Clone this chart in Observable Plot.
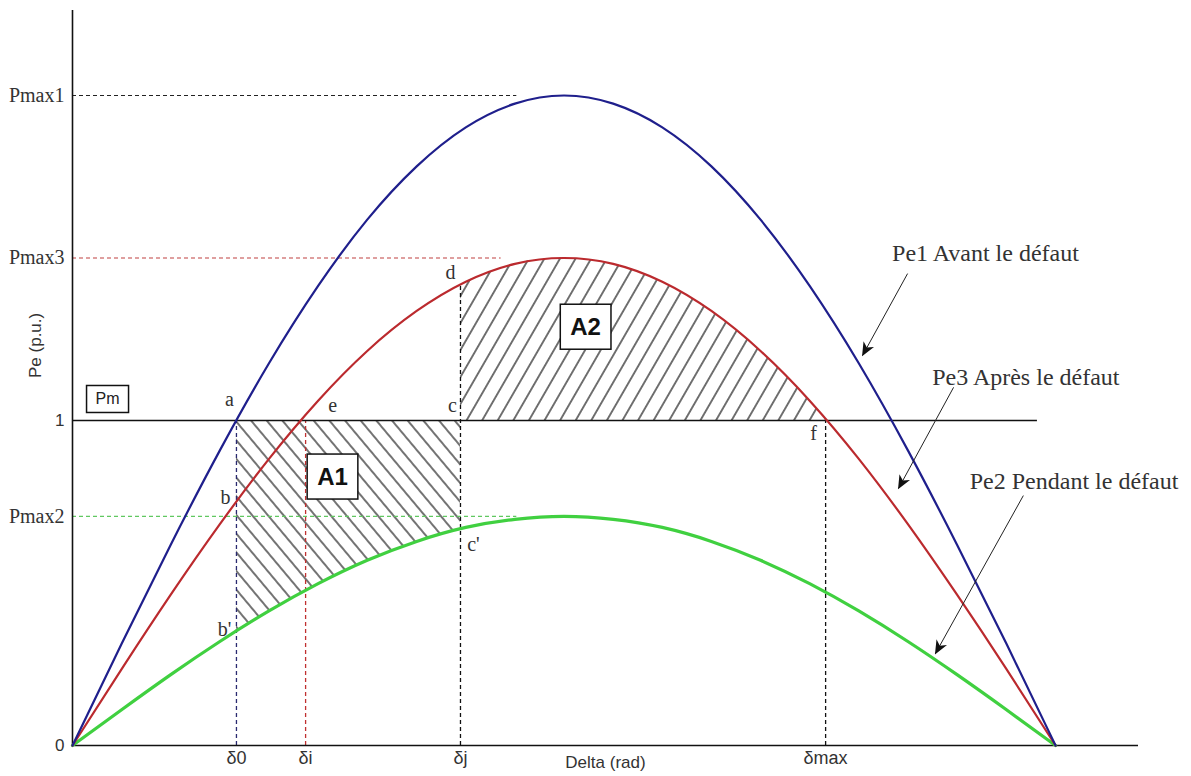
<!DOCTYPE html>
<html><head><meta charset="utf-8">
<script src="https://cdn.jsdelivr.net/npm/d3@7"></script>
<script src="https://cdn.jsdelivr.net/npm/@observablehq/plot@0.6"></script>
<style>html,body{margin:0;padding:0;background:#fff;} svg{display:block;}</style>
</head><body><div id="chart"></div>
<script>
// ---- data ----
const delta = [0, 0.157, 0.314, 0.471, 0.628, 0.785, 0.942, 1.100, 1.257, 1.414, 1.571, 1.728, 1.885, 2.042, 2.199, 2.356, 2.513, 2.670, 2.827, 2.985, 3.142];
const pe1 = [0, 0.313, 0.618, 0.908, 1.176, 1.414, 1.618, 1.782, 1.902, 1.975, 2.000, 1.975, 1.902, 1.782, 1.618, 1.414, 1.176, 0.908, 0.618, 0.313, 0];
const pe3 = [0, 0.235, 0.464, 0.681, 0.882, 1.061, 1.214, 1.337, 1.427, 1.482, 1.500, 1.482, 1.427, 1.337, 1.214, 1.061, 0.882, 0.681, 0.464, 0.235, 0];
const pe2 = [0, 0.110, 0.218, 0.320, 0.414, 0.498, 0.570, 0.628, 0.671, 0.696, 0.705, 0.696, 0.671, 0.628, 0.570, 0.498, 0.414, 0.320, 0.218, 0.110, 0];
// key points: δ0, δj, δmax
const keyDelta = [0.524, 1.240, 2.407];
const keyPe2 = [0.352, 0.667, 0.470];
const keyPe3 = [0.750, 1.419, 1.000];
const pm = 1;
const pmEnd = 3.084;
const pmaxValues = [2.0, 1.5, 0.705];
const pmaxLabels = ["Pmax1", "Pmax3", "Pmax2"];
const pmaxEnds = [1.42, 1.37, 1.42];
const angleTicks = [0.524, 0.745, 1.240, 2.407];
const angleLabels = ["δ0", "δi", "δj", "δmax"];
const yTicks = [0, 1];
const yTickLabels = ["0", "1"];
const curveNames = ["Pe1 Avant le défaut", "Pe3 Après le défaut", "Pe2 Pendant le défaut"];
const curveNameX = [2.918, 3.047, 3.201];
const curveNameY = [1.514, 1.132, 0.812];
const arrowX1 = [2.669, 2.816, 3.039];
const arrowY1 = [1.452, 1.102, 0.769];
const arrowX2 = [2.525, 2.640, 2.758];
const arrowY2 = [1.200, 0.791, 0.283];
const areaNames = ["A1", "A2"];
const areaNameX = [0.831, 1.640];
const areaNameY = [0.825, 1.286];
const pmBoxX = [0.112];
const pmBoxY = [1.065];

// ---- tables ----
const rows = delta.map((d, i) => ({delta: d, pe1: pe1[i], pe2: pe2[i], pe3: pe3[i]}));
const keys = keyDelta.map((d, i) => ({delta: d, pe2: keyPe2[i], pe3: keyPe3[i]}));
const [d0, di, dj, dmax] = angleTicks;
const byDelta = (a, b) => a.delta - b.delta;
const a1Rows = [keys[0], ...rows.filter(r => r.delta > d0 && r.delta < dj), keys[1]].sort(byDelta);
const a2Rows = [keys[1], ...rows.filter(r => r.delta > dj && r.delta < dmax), keys[2]].sort(byDelta);
const pmaxRows = pmaxValues.map((v, i) => ({v, end: pmaxEnds[i], label: pmaxLabels[i]}));
const calloutRows = curveNames.map((n, i) => ({x1: arrowX1[i], y1: arrowY1[i], x2: arrowX2[i], y2: arrowY2[i]}));
const nameRows = curveNames.map((n, i) => ({n, x: curveNameX[i], y: curveNameY[i]}));
const areaRows = areaNames.map((n, i) => ({n, x: areaNameX[i], y: areaNameY[i]}));

const SANS = "Liberation Sans, Arial, sans-serif";
const SERIF = "Liberation Serif, Times New Roman, serif";
const BLUE = "#1f1f8c", RED = "#bb2a2e", GREEN = "#40d040";

function letter(t, x, y, dx, dy) {
  return Plot.text([{x, y}], {x: "x", y: "y", text: () => t, dx, dy, fontFamily: SERIF, fontSize: 20, fill: "#333"});
}

const chart = Plot.plot({
  width: 1191, height: 776,
  marginLeft: 72, marginRight: 53, marginTop: 10, marginBottom: 31,
  x: {domain: [0, 3.407], axis: null},
  y: {domain: [0, 2.2615], axis: null},
  style: {fontFamily: SANS, background: "#fff", color: "#222"},
  marks: [
    // hatched areas
    Plot.areaY(a1Rows, {x: "delta", y1: "pe2", y2: pm, fill: "url(#hatchA1)", curve: "natural"}),
    Plot.areaY(a2Rows, {x: "delta", y1: pm, y2: "pe3", fill: "url(#hatchA2)", curve: "natural"}),
    // Pmax dashed guides
    Plot.ruleY([pmaxRows[0]], {y: "v", x1: 0, x2: "end", stroke: "#222", strokeDasharray: "4,3", strokeWidth: 1.2}),
    Plot.ruleY([pmaxRows[1]], {y: "v", x1: 0, x2: "end", stroke: "#c04040", strokeDasharray: "4,3", strokeWidth: 1.2}),
    Plot.ruleY([pmaxRows[2]], {y: "v", x1: 0, x2: "end", stroke: "#60c860", strokeDasharray: "4,3", strokeWidth: 1.2}),
    // vertical dashed guides
    Plot.ruleX([d0], {y1: 0, y2: pm, stroke: "#2a2a70", strokeDasharray: "4,3", strokeWidth: 1.3}),
    Plot.ruleX([di], {y1: 0, y2: pm, stroke: "#c03030", strokeDasharray: "4,3", strokeWidth: 1.3}),
    Plot.ruleX([dj], {y1: 0, y2: keys[1].pe3, stroke: "#111", strokeDasharray: "4,3", strokeWidth: 1.3}),
    Plot.ruleX([dmax], {y1: 0, y2: pm, stroke: "#111", strokeDasharray: "4,3", strokeWidth: 1.3}),
    // Pm line
    Plot.ruleY([pm], {x1: 0, x2: pmEnd, stroke: "#111", strokeWidth: 1.4}),
    // frame axes
    Plot.ruleY([0], {stroke: "#111", strokeWidth: 1.6}),
    Plot.ruleX([0], {stroke: "#111", strokeWidth: 1.6}),
    // axes labels
    Plot.axisY(yTicks, {tickSize: 0, tickPadding: 8, fontSize: 17, fontFamily: SANS, fill: "#333", label: null,
      tickFormat: d => yTickLabels[yTicks.indexOf(d)]}),
    Plot.axisY(pmaxValues, {tickSize: 0, tickPadding: 8, fontSize: 20, fontFamily: SERIF, fill: "#333", label: null,
      tickFormat: d => pmaxLabels[pmaxValues.indexOf(d)]}),
    Plot.axisX(angleTicks, {tickSize: 0, tickPadding: 6, fontSize: 18, fontFamily: SANS, fill: "#333", label: null,
      tickFormat: d => angleLabels[angleTicks.indexOf(d)]}),
    Plot.text(["Pe (p.u.)"], {frameAnchor: "left", dx: -37, rotate: -90, fontSize: 17, fill: "#333"}),
    Plot.text(["Delta (rad)"], {frameAnchor: "bottom", dy: 22, fontSize: 17, fill: "#333"}),
    // curves
    Plot.line(rows, {x: "delta", y: "pe2", stroke: GREEN, strokeWidth: 3.2, curve: "natural"}),
    Plot.line(rows, {x: "delta", y: "pe3", stroke: RED, strokeWidth: 2.2, curve: "natural"}),
    Plot.line(rows, {x: "delta", y: "pe1", stroke: BLUE, strokeWidth: 2.2, curve: "natural"}),
    // point letters
    letter("a", d0, pm, -7, -21),
    letter("b", d0, keys[0].pe3, -11, -4),
    letter("b'", d0, keys[0].pe2, -12, -2),
    letter("e", di, pm, 27, -15),
    letter("c", dj, pm, -8, -15),
    letter("c'", dj, keys[1].pe2, 13, 16),
    letter("d", dj, keys[1].pe3, -10, -12),
    letter("f", dmax, pm, -12, 13),
    // callouts
    Plot.link(calloutRows, {x1: "x1", y1: "y1", x2: "x2", y2: "y2", stroke: "#222", strokeWidth: 1, ariaDescription: "callout"}),
    Plot.text(nameRows, {x: "x", y: "y", text: "n", fontFamily: SERIF, fontSize: 24, fill: "#333"}),
    // boxed labels
    Plot.text(areaRows, {x: "x", y: "y", text: "n", fontFamily: SANS, fontSize: 24, fontWeight: "bold", fill: "#111", ariaDescription: "boxedBig"}),
    Plot.text(pmBoxX.map((x, i) => ({x, y: pmBoxY[i]})), {x: "x", y: "y", text: () => "Pm", fontFamily: SANS, fontSize: 16, fill: "#222", ariaDescription: "boxedSmall"})
  ]
});

document.getElementById("chart").appendChild(chart);
const svg = chart.tagName.toLowerCase() === "svg" ? chart : chart.querySelector("svg");
const NS = "http://www.w3.org/2000/svg";
const defs = document.createElementNS(NS, "defs");
defs.innerHTML = `
<pattern id="hatchA1" patternUnits="userSpaceOnUse" width="12" height="12" patternTransform="rotate(-40)">
  <line x1="6" y1="-2" x2="6" y2="14" stroke="#000" stroke-width="1.1"/>
</pattern>
<pattern id="hatchA2" patternUnits="userSpaceOnUse" width="13.5" height="13.5" patternTransform="rotate(30)">
  <line x1="6.75" y1="-2" x2="6.75" y2="15.5" stroke="#000" stroke-width="1.1"/>
</pattern>
<marker id="headMark" viewBox="0 0 14 12" refX="13" refY="6" markerWidth="14" markerHeight="12" markerUnits="userSpaceOnUse" orient="auto">
  <path d="M0,0 L14,6 L0,12 L4,6 Z" fill="#111"/>
</marker>`;
svg.insertBefore(defs, svg.firstChild);
svg.querySelectorAll('g[aria-description="callout"] path, g[aria-description="callout"] line').forEach(p => p.setAttribute("marker-end", "url(#headMark)"));
function boxIt(sel, px, py) {
  svg.querySelectorAll(`g[aria-description="${sel}"] text`).forEach(t => {
    const b = t.getBBox();
    const r = document.createElementNS(NS, "rect");
    r.setAttribute("x", b.x - px); r.setAttribute("y", b.y - py);
    r.setAttribute("width", b.width + 2 * px); r.setAttribute("height", b.height + 2 * py);
    r.setAttribute("fill", "#fff"); r.setAttribute("stroke", "#111"); r.setAttribute("stroke-width", "1.5");
    if (t.getAttribute("transform")) r.setAttribute("transform", t.getAttribute("transform"));
    t.parentNode.insertBefore(r, t);
  });
}
boxIt("boxedBig", 10, 9);
boxIt("boxedSmall", 9, 5);
</script>
</body></html>
